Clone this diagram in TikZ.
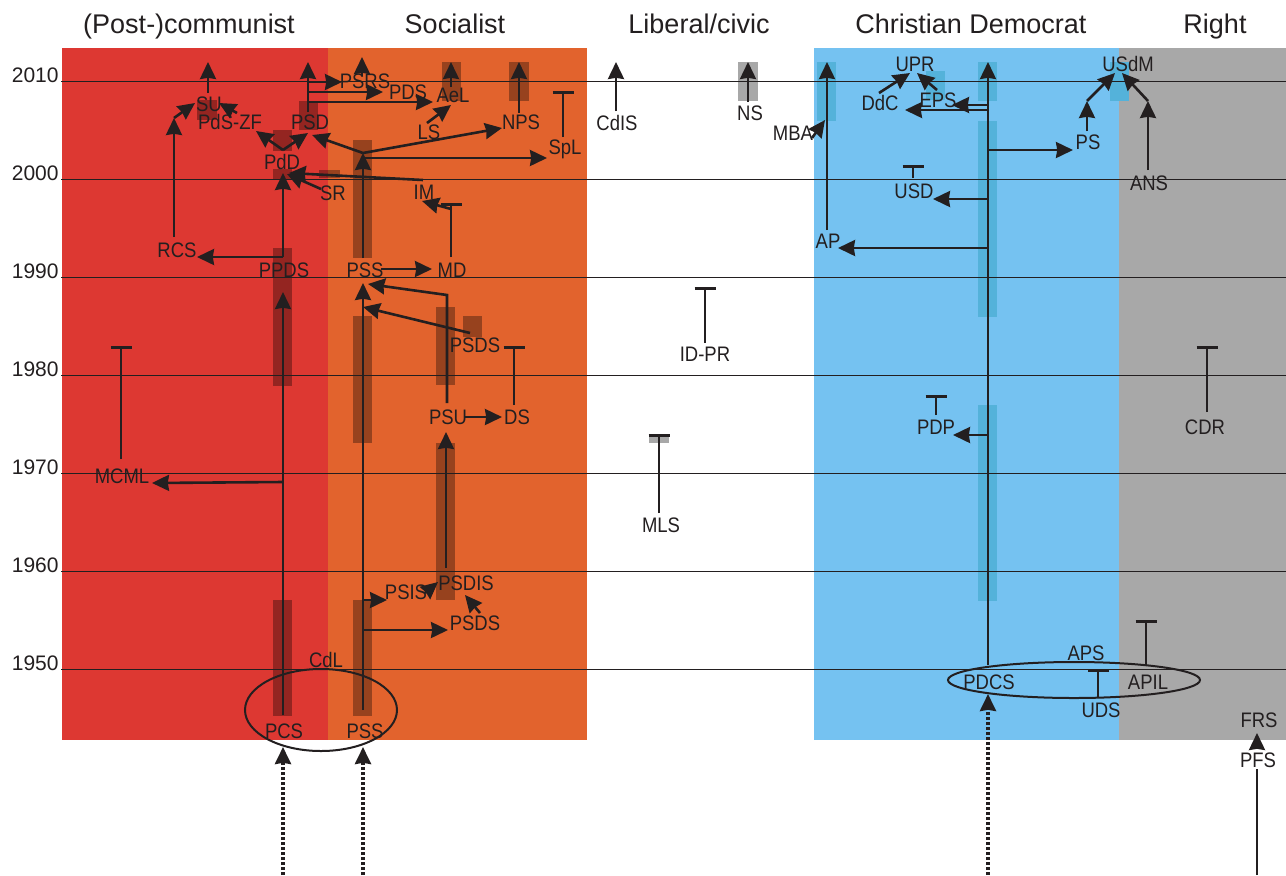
\documentclass[tikz,border=0pt]{standalone}
\usepackage{fontspec}
\setmainfont{Liberation Sans}
\newfontfamily\labfont[FakeStretch=0.88]{Liberation Sans}
\usetikzlibrary{arrows.meta,calc}
\definecolor{redbg}{RGB}{221,56,50}
\definecolor{orbg}{RGB}{226,99,45}
\definecolor{bluebg}{RGB}{117,194,241}
\definecolor{graybg}{RGB}{168,168,168}
\definecolor{cyanbar}{RGB}{84,178,218}
\definecolor{ink}{RGB}{35,31,32}
\begin{document}
\begin{tikzpicture}[x=0.5pt,y=-0.5pt,
  lab/.style={font=\labfont\fontsize{10.5}{12}\selectfont, inner sep=0pt, text height=7.5pt, text depth=0pt, text=ink},
  hdr/.style={font=\fontsize{13.5}{16}\selectfont, anchor=base, inner sep=0pt, text=ink},
  yr/.style={font=\fontsize{10.5}{12}\selectfont, anchor=east, inner sep=0pt, text height=7.5pt, text depth=0pt, text=ink},
  darkbar/.style={fill=black, fill opacity=0.33},
  cbar/.style={fill=cyanbar},
  gbar/.style={fill=graybg},
  arr/.style={draw=ink, line width=1.3pt, -{Stealth[length=8.5pt,width=8pt,inset=0.6pt]}},
  link/.style={draw=ink, line width=1.3pt},
  tee/.style={draw=ink, line width=1.3pt, -{Bar[width=10.5pt]}},
  dotarr/.style={draw=ink, line width=1.6pt, dash pattern=on 1.5pt off 1pt, -{Stealth[length=8.5pt,width=8pt,inset=0.6pt]}},
  yline/.style={draw=ink, line width=0.5pt},
  ring/.style={draw=ink, line width=1pt},
]
\useasboundingbox (0,0) rectangle (1286,875);
\fill[white] (0,0) rectangle (1286,875);
% backgrounds
\fill[redbg] (62,48) rectangle (328,740);
\fill[orbg] (328,48) rectangle (587,740);
\fill[bluebg] (814,48) rectangle (1119,740);
\fill[graybg] (1119,48) rectangle (1286,740);
% dark bars
\fill[darkbar] (273,600) rectangle (292,716);
\fill[darkbar] (273,248) rectangle (292,386);
\fill[darkbar] (273,130) rectangle (292,151);
\fill[darkbar] (273,169) rectangle (292,179);
\fill[darkbar] (197,100) rectangle (217,120);
\fill[darkbar] (299,101) rectangle (318,130);
\fill[darkbar] (319,170) rectangle (340,178);
\fill[darkbar] (353,600) rectangle (372,716);
\fill[darkbar] (353,316) rectangle (372,443);
\fill[darkbar] (353,140) rectangle (372,258);
\fill[darkbar] (436,443) rectangle (455,600);
\fill[darkbar] (436,307) rectangle (455,385);
\fill[darkbar] (463,316) rectangle (482,337);
\fill[darkbar] (442,62) rectangle (461,101);
\fill[darkbar] (509,62) rectangle (529,101);
\fill[gbar] (738,62) rectangle (758,101);
\fill[gbar] (649,434) rectangle (669,443);
\fill[cbar] (817,62) rectangle (836,121);
\fill[cbar] (978,62) rectangle (997,101);
\fill[cbar] (978,121) rectangle (997,317);
\fill[cbar] (978,405) rectangle (997,601);
\fill[cbar] (926,71) rectangle (945,100);
\fill[cbar] (1110,62) rectangle (1129,101);
% year lines and labels
\foreach \yr/\yy in {2010/81,2000/179,1990/277,1980/375,1970/473,1960/571,1950/669}{
  \draw[yline] (61,\yy) -- (1286,\yy);
  \node[yr] (y\yr) at (59,\yy-6.5) {\yr};
}
% headers
\node[hdr] (h1) at (189,33) {(Post-)communist};
\node[hdr] (h2) at (455,33) {Socialist};
\node[hdr] (h3) at (699,33) {Liberal/civic};
\node[hdr] (h4) at (971,33) {Christian Democrat};
\node[hdr] (h5) at (1215,33) {Right};
% labels
\node[lab] (PCS) at (284,731) {PCS};
\node[lab] (PSSa) at (365,731) {PSS};
\node[lab] (CdL) at (326,660) {CdL};
\node[lab] (PSIS) at (406,592) {PSIS};
\node[lab] (PSDIS) at (466,583) {PSDIS};
\node[lab] (PSDSa) at (475,623) {PSDS};
\node[lab] (PSU) at (448,417) {PSU};
\node[lab] (DS) at (517,417) {DS};
\node[lab] (PSDSb) at (475,345) {PSDS};
\node[lab] (PSSb) at (365,270) {PSS};
\node[lab] (MD) at (452,270) {MD};
\node[lab] (PPDS) at (284,270) {PPDS};
\node[lab] (RCS) at (177,250) {RCS};
\node[lab] (MCML) at (122,476) {MCML};
\node[lab] (IM) at (424,192) {IM};
\node[lab] (SR) at (333,193) {SR};
\node[lab] (PdD) at (282,162) {PdD};
\node[lab] (PSD) at (310,122) {PSD};
\node[lab] (PdSZF) at (230,122) {PdS-ZF};
\node[lab] (SU) at (209,104) {SU};
\node[lab] (PSRS) at (365,81) {PSRS};
\node[lab] (PDS) at (408,92) {PDS};
\node[lab] (AeL) at (453,95) {AeL};
\node[lab] (LS) at (429,132) {LS};
\node[lab] (NPS) at (521,122) {NPS};
\node[lab] (SpL) at (565,147) {SpL};
\node[lab] (CdIS) at (617,123) {CdIS};
\node[lab] (NS) at (750,113) {NS};
\node[lab] (MBA) at (793,133) {MBA};
\node[lab] (IDPR) at (705,354) {ID-PR};
\node[lab] (MLS) at (661,525) {MLS};
\node[lab] (UPR) at (915,64) {UPR};
\node[lab] (DdC) at (880,103) {DdC};
\node[lab] (EPS) at (938,100) {EPS};
\node[lab] (PS) at (1088,142) {PS};
\node[lab] (USdM) at (1128,64) {USdM};
\node[lab] (ANS) at (1149,183) {ANS};
\node[lab] (USD) at (914,191) {USD};
\node[lab] (AP) at (828,241) {AP};
\node[lab] (PDP) at (936,427) {PDP};
\node[lab] (CDR) at (1205,427) {CDR};
\node[lab] (PDCS) at (989,682) {PDCS};
\node[lab] (APIL) at (1148,682) {APIL};
\node[lab] (APS) at (1086,653) {APS};
\node[lab] (UDS) at (1101,710) {UDS};
\node[lab] (FRS) at (1259,720) {FRS};
\node[lab] (PFS) at (1258,760) {PFS};
% ellipses
\draw[ring] (321,710) ellipse [x radius=38pt, y radius=20.5pt];
\draw[ring] (1074,680) ellipse [x radius=63pt, y radius=9pt];
% junction coordinates
\coordinate (jM) at (283,482);
\coordinate (kR) at (174,118);
\coordinate (t1) at (308,82);
\coordinate (t2) at (308,92);
\coordinate (t3) at (308,102);
\coordinate (jS) at (363,153);
\coordinate (j2) at (363,600);
\coordinate (j3) at (363,630);
\coordinate (jAP) at (988,248);
\coordinate (jE) at (988,105);
\coordinate (jD) at (988,110);
\coordinate (jP) at (988,150);
\coordinate (jU) at (988,199);
\coordinate (jPD) at (988,435);
\coordinate (kP) at (1087,101);
\coordinate (kA) at (1148,101);
\coordinate (bF) at (1257,875);
\coordinate (b1) at (283,875);
\coordinate (b2) at (363,875);
\coordinate (b3) at (988,875);
% communist
\draw[arr] ($(PCS)+(-1,-16)$) -- ($(PPDS)+(-1,22)$);
\draw[arr] (jM) -- ($(MCML)+(30,7)$);
\draw[tee] ($(MCML)+(-1,-17)$) -- ($(MCML)+(-1,-130)$);
\draw[arr] ($(PPDS)+(-1,-13)$) -- ($(PdD)+(1,11)$);
\draw[arr] ($(PPDS)+(-1,-13)$) -- ($(RCS)+(20,7)$);
\draw[arr] ($(RCS)+(-3,-13)$) -- (kR);
\draw[arr] (kR) -- ($(SU)+(-14,-1)$);
\draw[arr] ($(SU)+(-1,-11)$) -- ($(SU)+(-1,-42)$);
\draw[arr] ($(PdSZF)+(7,-9)$) -- ($(SU)+(10,-1)$);
\draw[arr] ($(PdD)+(1,-12)$) -- ($(PdSZF)+(26,9)$);
\draw[arr] ($(PdD)+(1,-12)$) -- ($(PSD)+(-2,11)$);
\draw[arr] ($(SR)+(-12,-4)$) -- ($(PdD)+(5,12)$);
\draw[arr] ($(IM)+(-1,-12)$) -- ($(PdD)+(7,11)$);
\draw[arr] ($(PSD)+(-2,-10)$) -- ($(PSD)+(-2,-60)$);
\draw[arr] (t1) -- ($(PSRS)+(-23,1)$);
\draw[arr] (t2) -- ($(PDS)+(-25,0)$);
\draw[arr] (t3) -- ($(AeL)+(-20,7)$);
% socialist
\draw[arr] ($(PSSa)+(-2,-21)$) -- ($(PSSb)+(-2,13)$);
\draw[arr] (j2) -- ($(PSIS)+(-19,8)$);
\draw[arr] (j3) -- ($(PSDSa)+(-27,7)$);
\draw[arr] ($(PSIS)+(19,1)$) -- ($(PSDIS)+(-28,-1)$);
\draw[arr] ($(PSDSa)+(5,-10)$) -- ($(PSDIS)+(-1,12)$);
\draw[arr] ($(PSDIS)+(-20,-15)$) -- ($(PSU)+(-2,15)$);
\draw[arr] ($(PSU)+(17,0)$) -- ($(DS)+(-15,0)$);
\draw[tee] ($(DS)+(-3,-12)$) -- ($(DS)+(-3,-71)$);
\draw[arr] ($(PSU)+(-1,-14)$) -- ($(PSU)+(-1,-122)$) -- ($(PSSb)+(3,14)$);
\draw[arr] ($(PSDSb)+(-5,-12)$) -- ($(PSSb)+(-2,37)$);
\draw[arr] ($(PSSb)+(16,-1)$) -- ($(MD)+(-20,-1)$);
\draw[tee] ($(MD)+(-1,-13)$) -- ($(MD)+(-1,-67)$);
\draw[arr] ($(MD)+(-1,-61)$) -- ($(IM)+(-2,9)$);
\draw[arr] ($(PSSb)+(-2,-12)$) -- (jS);
\draw[arr] (jS) -- ($(PSD)+(2,13)$);
\draw[arr] (jS) -- ($(NPS)+(-19,6)$);
\draw[arr] ($(jS)+(0,5)$) -- ($(SpL)+(-18,11)$);
\draw[arr] ($(LS)+(-2,-9)$) -- ($(AeL)+(-2,10)$);
\draw[arr] ($(AeL)+(-2,-8)$) -- ($(AeL)+(-2,-33)$);
\draw[arr] ($(NPS)+(-2,-9)$) -- ($(NPS)+(-2,-60)$);
\draw[tee] ($(SpL)+(-2,-10)$) -- ($(SpL)+(-2,-56)$);
\draw[arr] ($(PSRS)+(-3,-5)$) -- ($(PSRS)+(-3,-24)$);
% liberal
\draw[arr] ($(CdIS)+(-1,-12)$) -- ($(CdIS)+(-1,-61)$);
\draw[arr] ($(NS)+(-2,-11)$) -- ($(NS)+(-2,-51)$);
\draw[arr] ($(MBA)+(19,5)$) -- ($(AP)+(-3,-121)$);
\draw[tee] ($(IDPR)+(0,-11)$) -- ($(IDPR)+(0,-67)$);
\draw[tee] ($(MLS)+(-2,-12)$) -- ($(MLS)+(-2,-91)$);
% christian democrat and right
\draw[arr] ($(AP)+(-1,-11)$) -- ($(AP)+(-1,-179)$);
\draw[arr] (jAP) -- ($(AP)+(10,7)$);
\draw[arr] ($(PDCS)+(-1,-17)$) -- ($(PDCS)+(-1,-620)$);
\draw[arr] (jE) -- ($(EPS)+(14,5)$);
\draw[arr] (jD) -- ($(DdC)+(25,7)$);
\draw[arr] ($(DdC)+(-1,-10)$) -- ($(UPR)+(-5,9)$);
\draw[arr] ($(EPS)+(-1,-10)$) -- ($(UPR)+(2,9)$);
\draw[arr] (jP) -- ($(PS)+(-15,8)$);
\draw[arr] ($(PS)+(-1,-11)$) -- (kP);
\draw[arr] (kP) -- ($(USdM)+(-13,9)$);
\draw[arr] ($(ANS)+(-1,-13)$) -- (kA);
\draw[arr] (kA) -- ($(USdM)+(-6,9)$);
\draw[arr] (jU) -- ($(USD)+(19,8)$);
\draw[tee] ($(USD)+(-1,-13)$) -- ($(USD)+(-1,-26)$);
\draw[arr] (jPD) -- ($(PDP)+(17,8)$);
\draw[tee] ($(PDP)+(0,-12)$) -- ($(PDP)+(0,-32)$);
\draw[tee] ($(CDR)+(2,-15)$) -- ($(CDR)+(2,-81)$);
\draw[tee] ($(UDS)+(-3,-13)$) -- ($(UDS)+(-3,-41)$);
\draw[tee] ($(APIL)+(-2,-17)$) -- ($(APIL)+(-2,-62)$);
\draw[arr] ($(PFS)+(-1,-12)$) -- ($(FRS)+(-2,13)$);
\draw[link] (bF) -- ($(PFS)+(-1,9)$);
% dotted incoming arrows
\draw[dotarr] (b1) -- ($(PCS)+(-1,16)$);
\draw[dotarr] (b2) -- ($(PSSa)+(-2,16)$);
\draw[dotarr] (b3) -- ($(PDCS)+(-1,12)$);
\end{tikzpicture}
\end{document}
